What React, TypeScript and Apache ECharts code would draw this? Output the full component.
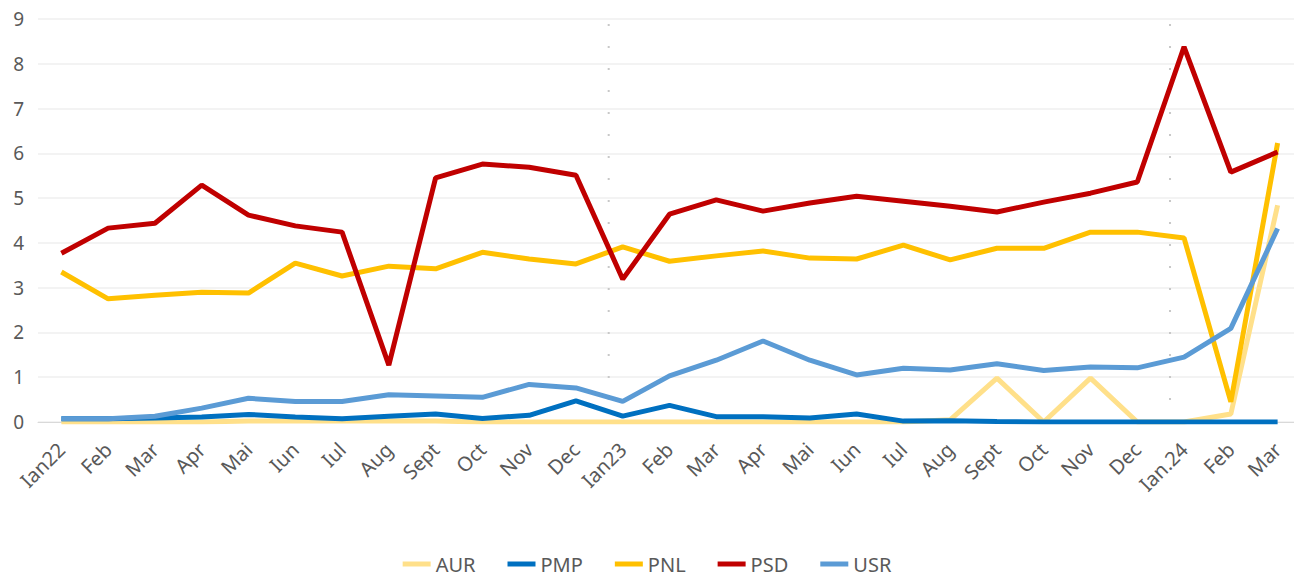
import React, { useEffect, useRef } from "react";
import * as echarts from "echarts";

const categories = [
  "Ian22", "Feb", "Mar", "Apr", "Mai", "Iun", "Iul", "Aug", "Sept", "Oct", "Nov", "Dec",
  "Ian23", "Feb", "Mar", "Apr", "Mai", "Iun", "Iul", "Aug", "Sept", "Oct", "Nov", "Dec",
  "Ian.24", "Feb", "Mar",
];

const aur = [0, 0, 0, 0, 0.02, 0.02, 0.02, 0.02, 0.02, 0, 0, 0, 0, 0, 0, 0, 0, 0, 0, 0.05, 0.98, 0, 0.98, 0, 0, 0.18, 4.84];
const pmp = [0.07, 0.07, 0.09, 0.11, 0.17, 0.11, 0.07, 0.13, 0.18, 0.08, 0.15, 0.47, 0.13, 0.37, 0.12, 0.12, 0.09, 0.18, 0.02, 0.03, 0.01, 0, 0, 0, 0, 0, 0];
const pnl = [3.35, 2.75, 2.83, 2.9, 2.88, 3.55, 3.26, 3.48, 3.42, 3.79, 3.64, 3.53, 3.91, 3.59, 3.71, 3.82, 3.66, 3.64, 3.95, 3.62, 3.88, 3.88, 4.24, 4.24, 4.11, 0.45, 6.23];
const psd = [3.77, 4.33, 4.44, 5.29, 4.62, 4.38, 4.24, 1.27, 5.45, 5.76, 5.69, 5.51, 3.19, 4.64, 4.96, 4.71, 4.89, 5.04, 4.93, 4.82, 4.69, 4.91, 5.11, 5.36, 8.38, 5.58, 6.03];
const usr = [0.07, 0.07, 0.13, 0.31, 0.53, 0.46, 0.46, 0.61, 0.58, 0.55, 0.84, 0.76, 0.46, 1.03, 1.38, 1.81, 1.38, 1.05, 1.2, 1.16, 1.3, 1.15, 1.23, 1.21, 1.45, 2.09, 4.32];

const seriesNames = ["AUR", "PMP", "PNL", "PSD", "USR"];
const seriesData = [aur, pmp, pnl, psd, usr];
const seriesColors = ["#FFE08A", "#0070C0", "#FFC000", "#C00000", "#5B9BD5"];

// positions of the year separators, measured in category-band units
const separators = [12.2, 24.2];

const FONT = "'Noto Sans', 'Open Sans', sans-serif";
const TEXT = "#595959";

export default function App() {
  const ref = useRef<HTMLDivElement>(null);
  useEffect(() => {
    if (!ref.current) return;
    const chart = echarts.init(ref.current, undefined, { renderer: "svg" });
    const lineSeries = seriesNames.map((name, i) => ({
      name,
      type: "line",
      data: seriesData[i],
      xAxisIndex: 0,
      yAxisIndex: 0,
      symbol: "none",
      lineStyle: { width: 5, color: seriesColors[i] },
      itemStyle: { color: seriesColors[i] },
      z: 3 + i,
    }));
    const sepSeries = separators.map((s, k) => ({
      name: "sep" + k,
      type: "line",
      xAxisIndex: 1,
      yAxisIndex: 0,
      data: [[s, 0], [s, 9.1]],
      symbol: "none",
      silent: true,
      clip: false,
      lineStyle: { width: 2, color: "#c8c8c8", type: [2, 20] },
      z: 1,
    }));
    chart.setOption({
      animation: false,
      textStyle: { fontFamily: FONT },
      grid: {
        left: 38,
        top: 19,
        height: 403,
        width: 1263,
        containLabel: false,
        outerBoundsMode: "none",
      },
      legend: {
        data: seriesNames,
        top: 553,
        padding: 0,
        left: "center",
        icon: "rect",
        itemWidth: 28,
        itemHeight: 5,
        itemGap: 32,
        textStyle: { fontSize: 20, lineHeight: 22, color: TEXT, fontFamily: FONT },
      },
      xAxis: [
        {
          type: "category",
          data: categories,
          boundaryGap: true,
          axisLine: { show: true, lineStyle: { color: "#d9d9d9", width: 1 } },
          axisTick: { show: false },
          axisLabel: {
            rotate: 45,
            interval: 0,
            margin: 24,
            fontSize: 20,
            color: TEXT,
            fontFamily: FONT,
          },
        },
        {
          type: "value",
          min: 0,
          max: categories.length,
          show: false,
          position: "bottom",
        },
      ],
      yAxis: {
        type: "value",
        min: 0,
        max: 9,
        interval: 1,
        axisLine: { show: false },
        axisTick: { show: false },
        axisLabel: { fontSize: 19, color: TEXT, margin: 14, fontFamily: FONT },
        splitLine: { lineStyle: { color: "#efefef", width: 1.5 } },
      },
      series: [...sepSeries, ...lineSeries],
    });
    return () => chart.dispose();
  }, []);
  return (
    <div
      ref={ref}
      style={{ position: "absolute", left: 0, top: 0, width: 1294, height: 576 }}
    />
  );
}
